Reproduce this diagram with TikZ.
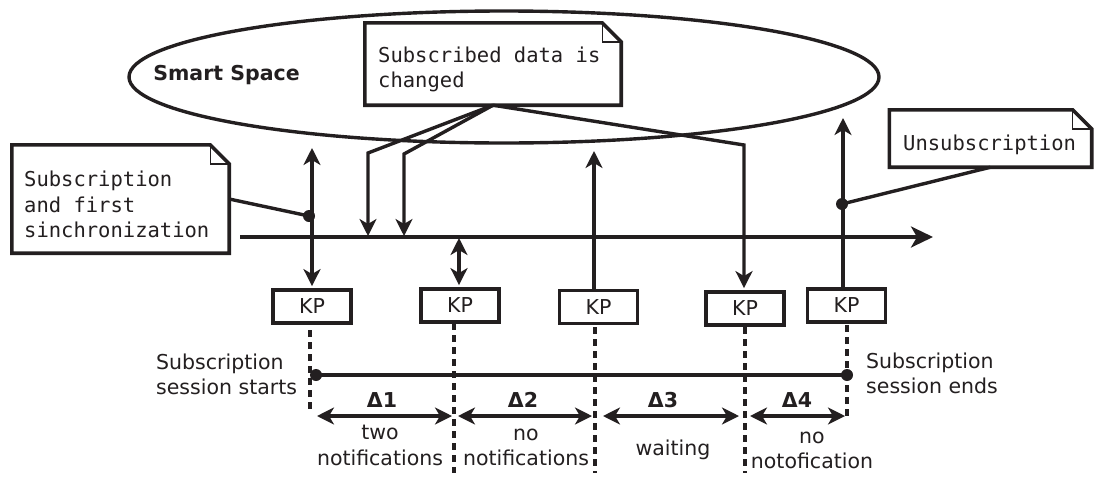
\documentclass[tikz,border=0pt]{standalone}
\usepackage{fontspec}
\setmainfont{DejaVu Sans}
\newfontfamily\notefont{DejaVu Sans Mono}
\usetikzlibrary{arrows.meta,shapes.geometric,calc}
\definecolor{ink}{HTML}{231F20}

% folded-corner outline around an (empty) placeholder node
\newcommand\foldnote[1]{%
  \draw[ink, line width=3.6pt, fill=white, line join=miter]
    (#1.south west) -- (#1.north west) -- ([xshift=-19pt]#1.north east)
    -- ([yshift=-19pt]#1.north east) -- (#1.south east) -- cycle;
  \draw[ink, line width=1.4pt]
    ([xshift=-19pt]#1.north east) |- ([yshift=-19pt]#1.north east);}

\begin{document}
\begin{tikzpicture}[x=1pt, y=-1pt,
  every node/.style={text=ink, font=\fontsize{20.5}{25.5}\selectfont},
  mono/.style={font=\notefont\fontsize{20.5}{25.5}\selectfont, align=left, inner sep=0pt},
  plain/.style={align=left, inner sep=0pt},
  holder/.style={rectangle, inner sep=0pt, draw=none},
  kpbox/.style={rectangle, draw=ink, line width=3.8pt, fill=white,
                minimum width=78pt, minimum height=33pt, inner sep=0pt},
  wire/.style={draw=ink, line width=3.4pt, line join=miter},
  tip/.style={-{Stealth[length=17pt,width=17pt,inset=5pt]}},
  twotip/.style={{Stealth[length=17pt,width=17pt,inset=5pt]}-{Stealth[length=17pt,width=17pt,inset=5pt]}},
  guide/.style={draw=ink, line width=3.6pt, dash pattern=on 7pt off 5pt},
  delta/.style={font=\bfseries\fontsize{20.5}{25.5}\selectfont, inner sep=0pt},
  dot/.style={fill=ink}
]
\useasboundingbox (0,0) rectangle (1094,477);

% smart space
\node[ellipse, draw=ink, line width=3.4pt, minimum width=750pt, minimum height=132pt,
      inner sep=0pt] (ss) at (504,77) {};
\node[delta] (sslabel) at (226.5,75) {Smart Space};

% notes
\node[holder, minimum width=256pt, minimum height=82pt] (n2) at (493,64) {};
\foldnote{n2}
\node[mono, anchor=west] (n2t) at (378,69.5) {Subscribed data is\\changed};

\node[holder, minimum width=217pt, minimum height=108pt] (n1) at (120.5,199) {};
\foldnote{n1}
\node[mono, anchor=west] (n1t) at (24,204.5) {Subscription\\and first\\sinchronization};

\node[holder, minimum width=202pt, minimum height=57pt] (n3) at (990.5,138.5) {};
\foldnote{n3}
\node[mono, anchor=west] (n3t) at (903,145) {Unsubscription};

% time axis
\coordinate (tl0) at (240,237);
\coordinate (tl1) at (933,237);
\draw[wire, -{Stealth[length=22pt,width=21pt,inset=6pt]}] (tl0) -- (tl1);

% knowledge processors
\node[kpbox] (kp1) at (312,306.5) {KP};
\node[kpbox] (kp2) at (460,305.5) {KP};
\node[kpbox] (kp3) at (598.5,307) {KP};
\node[kpbox] (kp4) at (745,308.5) {KP};
\node[kpbox] (kp5) at (846.5,305.5) {KP};

% subscription and first synchronization
\coordinate (up1) at (312,148);
\draw[wire, twotip] (up1) -- ([yshift=2pt]kp1.north);
\coordinate (d1) at (309,216);
\draw[wire] (n1.east) -- (d1);
\fill[dot] (d1) circle (6pt);

% KP2 exchange with the axis
\coordinate (up2) at (459,238);
\draw[wire, twotip] (up2) -- ([xshift=-1pt,yshift=2pt]kp2.north);

% notifications of changed data
\coordinate (b1) at (368,153);
\coordinate (e1) at (368,236);
\coordinate (b2) at (404,154);
\coordinate (e2) at (404,236);
\coordinate (b3) at (744,145);
\draw[wire, tip] (n2.south) -- (b1) -- (e1);
\draw[wire, tip] (n2.south) -- (b2) -- (e2);
\draw[wire, tip] (n2.south) -- (b3) -- ([xshift=-1pt,yshift=2pt]kp4.north);

% KP3 request
\coordinate (up3) at (594,151);
\draw[wire, tip] ([xshift=-4.5pt]kp3.north) -- (up3);

% unsubscription
\coordinate (up5) at (843,118);
\draw[wire, tip] ([xshift=-3.5pt]kp5.north) -- (up5);
\coordinate (d5) at (842,204);
\draw[wire] (n3.south) -- (d5);
\fill[dot] (d5) circle (6pt);

% dashed time marks
\coordinate (g1a) at (310,330);  \coordinate (g1b) at (310,413);
\coordinate (g2a) at (454,323);  \coordinate (g2b) at (454,473);
\coordinate (g3a) at (595,327);  \coordinate (g3b) at (595,473);
\coordinate (g4a) at (745,327);  \coordinate (g4b) at (745,473);
\coordinate (g5a) at (847,325);  \coordinate (g5b) at (847,416);
\foreach \g in {1,...,5} \draw[guide] (g\g a) -- (g\g b);

% subscription session
\coordinate (s0) at (316,375);
\coordinate (s1) at (847,375);
\draw[wire] (s0) -- (s1);
\fill[dot] (s0) circle (6pt);
\fill[dot] (s1) circle (6pt);
\node[plain, anchor=west] (sstart) at (156,374.5) {Subscription\\session starts};
\node[plain, anchor=west] (send) at (866,373.5) {Subscription\\session ends};

% intervals
\coordinate (a1) at (317,416); \coordinate (a2) at (452,416);
\coordinate (a3) at (458,416); \coordinate (a4) at (592,416);
\coordinate (a5) at (603,416); \coordinate (a6) at (739,416);
\coordinate (a7) at (750,416); \coordinate (a8) at (845,416);
\draw[wire, twotip] (a1) -- (a2);
\draw[wire, twotip] (a3) -- (a4);
\draw[wire, twotip] (a5) -- (a6);
\draw[wire, twotip] (a7) -- (a8);
\node[delta] (dl1) at (382,400) {Δ1};
\node[delta] (dl2) at (523,400) {Δ2};
\node[delta] (dl3) at (663,400) {Δ3};
\node[delta] (dl4) at (797,400) {Δ4};

\node[align=center, inner sep=0pt] (i1) at (380,445.5) {two\\notifications};
\node[align=center, inner sep=0pt] (i2) at (526,447.5) {no\\notifications};
\node[align=center, inner sep=0pt] (i3) at (673,450) {waiting};
\node[align=center, inner sep=0pt] (i4) at (812,450.5) {no\\notofication};
\end{tikzpicture}
\end{document}
